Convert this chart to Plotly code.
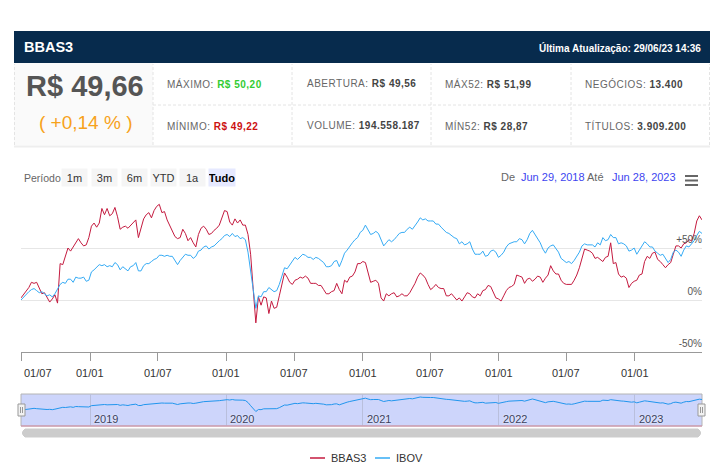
import pandas as pd
import plotly.graph_objects as go

W, H = 719, 471
FONT = "Liberation Sans, Arial, sans-serif"

# ---------------- data ----------------
start_date = "2018-06-29"
bbas3_pct = [
    2, 5, 8, 12, 17, 16, 17, 11, 6, 7,
    2, -2, 1, 5, -3, 35, 34, 42, 50, 47,
    51, 56, 59, 55, 52, 53, 60, 71, 74, 70,
    74, 88, 82, 88, 81, 83, 89, 80, 68, 70,
    71, 69, 72, 75, 77, 60, 70, 78, 82, 84,
    79, 86, 90, 92, 84, 85, 77, 72, 66, 61,
    59, 60, 68, 64, 57, 60, 55, 51, 63, 69,
    71, 68, 63, 64, 67, 69, 72, 80, 86, 85,
    75, 72, 78, 74, 77, 72, 72, 63, 44, 10,
    -22, 3, -5, 3, 2, -13, -1, -8, -7, 4,
    16, 26, 22, 17, 15, 19, 20, 22, 21, 23,
    21, 16, 16, 16, 14, 14, 10, 6, 6, 8,
    9, 16, 10, 6, 19, 17, 22, 23, 27, 35,
    35, 37, 36, 25, 17, 18, 19, 16, 2, -1,
    6, 4, 6, 7, 3, 4, 6, 4, 4, 7,
    11, 16, 22, 26, 24, 21, 15, 10, 12, 15,
    12, 11, 11, 4, 4, 6, 3, 0, 2, -1,
    3, 7, 6, 3, 2, 6, 4, 9, 10, 14,
    13, 8, 2, 1, -1, 4, 9, 12, 13, 15,
    24, 23, 22, 16, 20, 21, 18, 20, 23, 22,
    17, 21, 24, 33, 28, 25, 25, 19, 16, 15,
    15, 15, 19, 24, 31, 41, 49, 48, 47, 45,
    40, 41, 39, 37, 41, 42, 55, 35, 36, 25,
    22, 23, 21, 12, 16, 18, 19, 24, 25, 37,
    42, 40, 45, 46, 39, 37, 34, 31, 34, 36,
    44, 52, 52, 50, 54, 55, 58, 57, 64, 76,
    81, 77,
]
ibov_pct = [
    0, 3, 6, 8, 10, 11, 9, 7, 8, 6,
    4, 5, 3, 6, 11, 15, 17, 16, 20, 20,
    17, 22, 21, 21, 22, 18, 19, 27, 29, 32,
    34, 33, 34, 32, 33, 32, 36, 34, 29, 32,
    30, 28, 32, 33, 36, 28, 28, 33, 35, 35,
    37, 39, 40, 43, 43, 42, 43, 42, 42, 38,
    34, 38, 41, 44, 43, 43, 40, 42, 47, 48,
    51, 52, 49, 51, 52, 55, 57, 59, 62, 63,
    61, 64, 61, 62, 59, 60, 58, 46, 27, 6,
    -8, 4, 3, 8, 8, 12, 10, 8, 9, 15,
    23, 31, 30, 34, 37, 41, 39, 42, 44, 43,
    41, 41, 39, 41, 40, 38, 36, 32, 32, 33,
    37, 38, 32, 38, 45, 48, 52, 55, 58, 60,
    65, 67, 72, 67, 63, 64, 66, 64, 58, 52,
    55, 58, 56, 58, 61, 64, 65, 65, 68, 70,
    68, 71, 75, 79, 77, 78, 76, 76, 76, 73,
    73, 70, 67, 65, 64, 62, 60, 59, 54, 56,
    53, 54, 56, 49, 44, 44, 44, 47, 42, 43,
    47, 48, 46, 41, 43, 46, 51, 54, 55, 56,
    56, 59, 58, 54, 58, 64, 67, 63, 59, 55,
    49, 45, 50, 52, 53, 50, 46, 40, 38, 36,
    37, 35, 38, 42, 46, 52, 54, 53, 53, 53,
    51, 55, 53, 60, 57, 58, 63, 60, 60, 54,
    55, 54, 52, 47, 48, 50, 44, 48, 53, 56,
    54, 51, 51, 47, 45, 43, 44, 40, 36, 39,
    46, 48, 46, 42, 48, 52, 51, 54, 57, 62,
    66, 64,
]
dates = pd.date_range(start_date, periods=len(bbas3_pct), freq="7D")

x_tick_dates = ["2018-07-01", "2019-01-01", "2019-07-01", "2020-01-01", "2020-07-01",
                "2021-01-01", "2021-07-01", "2022-01-01", "2022-07-01", "2023-01-01"]
x_tick_labels = ["01/07", "01/01", "01/07", "01/01", "01/07",
                 "01/01", "01/07", "01/01", "01/07", "01/01"]
y_tick_vals = [-50, 0, 50, 100]
y_tick_text = ["-50%", "0%", "+50%", ""]
nav_year_dates = ["2019-01-01", "2020-01-01", "2021-01-01", "2022-01-01", "2023-01-01"]
nav_year_labels = ["2019", "2020", "2021", "2022", "2023"]

ticker = "BBAS3"
updated = "Última Atualização: 29/06/23 14:36"
price = "R$ 49,66"
change = "( +0,14 % )"
info_row1 = [("MÁXIMO: ", "R$ 50,20", "#33cc33"), ("ABERTURA: ", "R$ 49,56", "#444444"),
             ("MÁX52: ", "R$ 51,99", "#444444"), ("NEGÓCIOS: ", "13.400", "#444444")]
info_row2 = [("MÍNIMO: ", "R$ 49,22", "#cc1111"), ("VOLUME: ", "194.558.187", "#444444"),
             ("MÍN52: ", "R$ 28,87", "#444444"), ("TÍTULOS: ", "3.909.200", "#444444")]
buttons = ["1m", "3m", "6m", "YTD", "1a", "Tudo"]
selected_button = "Tudo"
date_from = "Jun 29, 2018"
date_to = "Jun 28, 2023"
series_names = ["BBAS3", "IBOV"]

RED = "#c41a3f"
BLUE = "#35abf5"


def px(x):
    return x / W


def py(y):
    return 1 - y / H


fig = go.Figure()
fig.add_trace(go.Scatter(x=dates, y=bbas3_pct, mode="lines", name=series_names[0],
                         line=dict(color=RED, width=1), xaxis="x", yaxis="y", hoverinfo="skip"))
fig.add_trace(go.Scatter(x=dates, y=ibov_pct, mode="lines", name=series_names[1],
                         line=dict(color=BLUE, width=1), xaxis="x", yaxis="y", hoverinfo="skip"))
fig.add_trace(go.Scatter(x=dates, y=ibov_pct, mode="lines", name="nav",
                         line=dict(color="#2196ee", width=1), xaxis="x2", yaxis="y2", hoverinfo="skip"))

shapes = []
ann = []

# header
shapes.append(dict(type="rect", xref="paper", yref="paper", x0=px(14), x1=px(710), y0=py(63), y1=py(31),
                   fillcolor="#072b4d", line=dict(width=0), layer="below"))
ann.append(dict(text="<b>%s</b>" % ticker, x=px(22), y=py(47), xanchor="left", yanchor="middle",
                font=dict(size=14.5, color="white", family=FONT)))
ann.append(dict(text="<b>%s</b>" % updated, x=px(703), y=py(48), xanchor="right", yanchor="middle",
                font=dict(size=10, color="white", family=FONT)))

# info panel
shapes.append(dict(type="rect", xref="paper", yref="paper", x0=px(14), x1=px(153), y0=py(145), y1=py(63),
                   fillcolor="#fafafa", line=dict(width=0), layer="below"))
shapes.append(dict(type="line", xref="paper", yref="paper", x0=px(14), x1=px(710), y0=py(146.5), y1=py(146.5),
                   line=dict(color="#eeeeee", width=2)))
for xv in [14.5, 153, 292, 431, 571, 709.5]:
    shapes.append(dict(type="line", xref="paper", yref="paper", x0=px(xv), x1=px(xv), y0=py(145), y1=py(64),
                       line=dict(color="#e4e4e4", width=1, dash="3px,2px")))
shapes.append(dict(type="line", xref="paper", yref="paper", x0=px(153), x1=px(710), y0=py(105), y1=py(105),
                   line=dict(color="#e4e4e4", width=1, dash="3px,2px")))
ann.append(dict(text="<b>%s</b>" % price, x=px(85), y=py(86), xanchor="center", yanchor="middle",
                font=dict(size=29, color="#555555", family=FONT)))
ann.append(dict(text=change, x=px(85), y=py(123), xanchor="center", yanchor="middle",
                font=dict(size=19, color="#f7a21b", family=FONT)))
col_x = [165, 305, 443, 583]
for row, yv in [(info_row1, 84), (info_row2, 125.5)]:
    for (lab, val, col), xv in zip(row, col_x):
        txt = ("<span style='letter-spacing:0.5px'>%s</span>"
               "<span style='letter-spacing:0.5px;color:%s'><b>%s</b></span>") % (lab, col, val)
        ann.append(dict(text=txt, x=px(xv), y=py(yv), xanchor="left", yanchor="middle",
                        font=dict(size=10, color="#666666", family=FONT)))

# range selector row
ann.append(dict(text="Período", x=px(22), y=py(177.5), xanchor="left", yanchor="middle",
                font=dict(size=10.5, color="#666666", family=FONT)))
btn_cx = [74.5, 104.5, 134.5, 163.5, 192.5, 222]
for b, cx in zip(buttons, btn_cx):
    sel = b == selected_button
    ann.append(dict(text=("<b>%s</b>" % b) if sel else b, x=px(cx), y=py(177.5),
                    xanchor="center", yanchor="middle", width=25 if not sel else 26, height=17,
                    borderpad=0, bgcolor="#e6e9ff" if sel else "#f5f5f5",
                    font=dict(size=11, color="#000000" if sel else "#333333", family=FONT)))
for txt, xv, col in [("De", 499, "#666666"), (date_from, 519, "#3d44f0"),
                     ("Até", 585, "#666666"), (date_to, 610, "#3d44f0")]:
    ann.append(dict(text=txt, x=px(xv), y=py(177), xanchor="left", yanchor="middle",
                    font=dict(size=11, color=col, family=FONT)))
for yv in [176, 180.5, 185]:
    shapes.append(dict(type="line", xref="paper", yref="paper", x0=px(685), x1=px(698), y0=py(yv), y1=py(yv),
                       line=dict(color="#666666", width=2)))

# x tick labels of main chart
for i, (d, lab) in enumerate(zip(x_tick_dates, x_tick_labels)):
    ann.append(dict(text=lab, x=d, xref="x", y=py(373), yref="paper",
                    xanchor="left" if i == 0 else "center", yanchor="middle",
                    font=dict(size=11, color="#333333", family=FONT)))

# navigator
shapes.append(dict(type="rect", xref="paper", yref="paper", x0=px(21), x1=px(702), y0=py(426), y1=py(394),
                   fillcolor="#cdd5fb", line=dict(color="#b4b4b4", width=1), layer="below"))
shapes.append(dict(type="line", xref="paper", yref="paper", x0=px(21), x1=px(702), y0=py(426), y1=py(426),
                   line=dict(color="#d48aa3", width=1)))
for d, lab in zip(nav_year_dates, nav_year_labels):
    ann.append(dict(text=lab, x=d, xref="x2", y=py(419), yref="paper", xanchor="left", yanchor="middle",
                    xshift=2, font=dict(size=11, color="#3a3f5e", family=FONT,
                                        shadow="0px 0px 2px #ffffff")))
for hx in [21.5, 701.5]:
    shapes.append(dict(type="rect", xref="paper", yref="paper", x0=px(hx - 3.5), x1=px(hx + 3.5),
                       y0=py(416), y1=py(404), fillcolor="#f2f2f2", line=dict(color="#999999", width=1)))
    for dx in [-1, 1]:
        shapes.append(dict(type="line", xref="paper", yref="paper", x0=px(hx + dx), x1=px(hx + dx),
                           y0=py(413), y1=py(407), line=dict(color="#999999", width=1)))
# scrollbar
x0s, x1s, ya, yb = px(21), px(702), py(429), py(437)
r = px(4) - px(0)
shapes.append(dict(type="path", xref="paper", yref="paper",
                   path="M %f,%f L %f,%f Q %f,%f %f,%f L %f,%f Q %f,%f %f,%f Z" % (
                       x0s + r, ya, x1s - r, ya, x1s + r * 0.3, (ya + yb) / 2, x1s - r, yb,
                       x0s + r, yb, x0s - r * 0.3, (ya + yb) / 2, x0s + r, ya),
                   fillcolor="#cccccc", line=dict(color="#cccccc", width=1)))

# legend (drawn)
for (x0, x1, tx, name, col) in [(310, 325, 329, series_names[0], RED), (375, 390, 394, series_names[1], BLUE)]:
    shapes.append(dict(type="line", xref="paper", yref="paper", x0=px(x0), x1=px(x1), y0=py(458), y1=py(458),
                       line=dict(color=col, width=1.5)))
    ann.append(dict(text=name, x=px(tx), y=py(458), xanchor="left", yanchor="middle",
                    font=dict(size=11, color="#333333", family=FONT)))

for a in ann:
    a.setdefault("xref", "paper")
    a.setdefault("yref", "paper")
    a["showarrow"] = False

fig.update_layout(
    width=W, height=H, margin=dict(l=0, r=0, t=0, b=0),
    paper_bgcolor="white", plot_bgcolor="white", showlegend=False,
    font=dict(family=FONT),
    shapes=shapes, annotations=ann,
    xaxis=dict(domain=[px(21), px(702)], anchor="y", type="date",
               range=[dates[0], dates[-1]], showgrid=False, zeroline=False,
               showline=True, linecolor="#999999", linewidth=1,
               ticks="outside", ticklen=8, tickcolor="#999999", tickwidth=1,
               tickmode="array", tickvals=x_tick_dates, showticklabels=False, fixedrange=True),
    yaxis=dict(domain=[py(352), py(196)], anchor="x", range=[-50, 100], side="right",
               tickmode="array", tickvals=y_tick_vals, ticktext=y_tick_text,
               ticklabelposition="inside top", ticklabelstandoff=-3, ticklabelshift=-2,
               ticks="", showline=False, zeroline=False,
               gridcolor="#e6e6e6", gridwidth=1,
               tickfont=dict(size=10, color="#555555", family=FONT), fixedrange=True),
    xaxis2=dict(domain=[px(21), px(702)], anchor="y2", type="date",
                range=[dates[0], dates[-1]], showgrid=True, gridcolor="#b9bfdc",
                tickmode="array", tickvals=nav_year_dates, showticklabels=False,
                zeroline=False, showline=False, ticks="", fixedrange=True),
    yaxis2=dict(domain=[py(426), py(394)], anchor="x2", range=[-95, 97], visible=False,
                fixedrange=True),
)

fig.write_html("out.html", config={"displayModeBar": False},
               post_script="document.body.style.margin='0px';document.body.style.overflow='hidden';")
